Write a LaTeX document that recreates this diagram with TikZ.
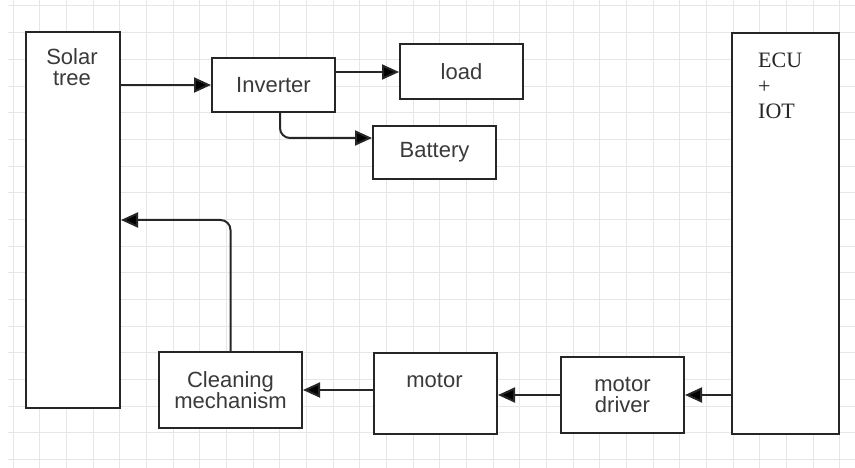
\documentclass[tikz,border=0pt]{standalone}
\usepackage{fontspec}
\setmainfont{Liberation Sans}
\newfontfamily\ecufont{Liberation Serif}
\usetikzlibrary{arrows.meta,positioning,calc}

\definecolor{gridgray}{HTML}{E6E6E6}
\definecolor{boxline}{HTML}{262626}
\definecolor{textgray}{HTML}{3A3A3A}

\tikzset{
  block/.style={draw=boxline, line width=2pt, fill=white, inner sep=0pt},
  blocktext/.style={text=textgray, font=\fontsize{22}{21}\selectfont, align=center, inner sep=0pt},
  flow/.style={draw=boxline, line width=2pt, rounded corners=10pt,
    -{Triangle[length=17pt,width=15pt,fill=black]}},
}

\begin{document}
\begin{tikzpicture}[x=1pt, y=-1pt]
\useasboundingbox (0,0) rectangle (855,468);
\fill[white] (0,0) rectangle (855,468);

% Background grid
\foreach \gx in {0,...,31}
  \draw[gridgray, line width=1pt] (13+26.67*\gx, 0) -- (13+26.67*\gx, 468);
\foreach \gy in {0,...,17}
  \draw[gridgray, line width=1pt] (8, 6+26.67*\gy) -- (855, 6+26.67*\gy);

% Solar tree column
\node[block, anchor=north west, minimum width=94, minimum height=376] (solar) at (25,31) {};
\node[blocktext, anchor=north] (solartxt) at (72,48) {Solar\\tree};

% Inverter and its outputs
\node[block, blocktext, minimum width=123, minimum height=54] (inverter) at (273.5,85) {Inverter};
\node[block, blocktext, minimum width=123, minimum height=55] (load) at (461.5,72) {load};
\node[block, blocktext, minimum width=123, minimum height=53] (battery) at (434.5,152.5) {Battery};

% ECU + IOT column
\node[block, anchor=north west, minimum width=107, minimum height=401] (ecu) at (731,32) {};
\node[anchor=north west, inner sep=0pt, align=left, text=black!85,
    font=\ecufont\fontsize{22}{25.5}\selectfont] (ecutxt) at (758,53) {ECU\\+\\IOT};

% Drive chain along the bottom
\node[block, blocktext, minimum width=123, minimum height=76] (driver) at (622.5,395) {motor\\driver};
\node[block, anchor=north west, minimum width=123, minimum height=81] (motor) at (373,352) {};
\node[blocktext] (motortxt) at (434.5,380) {motor};
\node[block, blocktext, minimum width=143, minimum height=76] (cleaning) at (230.5,390) {Cleaning\\mechanism};

% Power flow
\draw[flow] (solar.east |- inverter.west) -- (inverter.west);
\draw[flow] (inverter.east |- load.west) -- (load.west);
\draw[flow] ([xshift=6.5pt]inverter.south) |- ([yshift=14.5pt]battery.west);

% Control flow
\draw[flow] (ecu.west |- driver.east) -- (driver.east);
\draw[flow] (driver.west) -- (motor.east |- driver.west);
\draw[flow] (motor.west |- cleaning.east) -- (cleaning.east);
\draw[flow] (cleaning.north) |- (solar.east);

\end{tikzpicture}
\end{document}
